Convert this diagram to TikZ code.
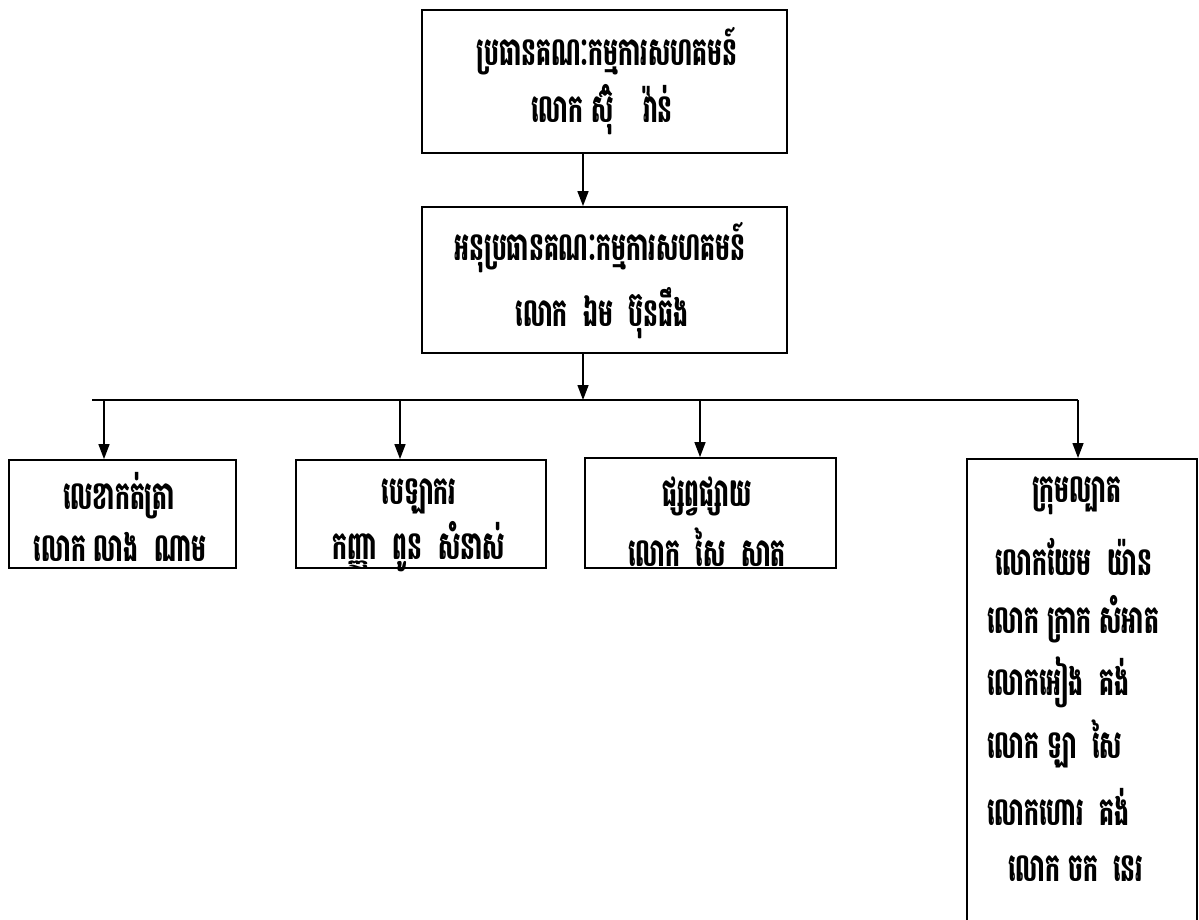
\documentclass[tikz,border=0pt]{standalone}
\usepackage{fontspec}
\usepackage{graphicx}
\newfontfamily\khmer[Script=Khmer]{Battambang}
\newcommand{\kh}[1]{\scalebox{0.78}[1.3]{\khmer\bfseries\fontsize{30}{36}\selectfont #1}}
\newcommand{\gap}{\hspace{20pt}}
\usetikzlibrary{arrows.meta}
\tikzset{
  box/.style={draw, line width=1.8pt, rectangle, inner sep=0pt},
  txt/.style={inner sep=0pt},
  arr/.style={line width=1.4pt, -{Triangle[length=15pt,width=11pt]}},
  conn/.style={line width=1.4pt}
}
\begin{document}
\begin{tikzpicture}[x=1pt,y=-1pt]
\clip (0,0) rectangle (1199,919);
\fill[white] (0,0) rectangle (1199,919);
% boxes
\node[box, minimum width=365pt, minimum height=143pt] (b1) at (604.5,81.5) {};
\node[box, minimum width=365pt, minimum height=146pt] (b2) at (604.5,280) {};
\node[box, minimum width=227pt, minimum height=108pt] (c1) at (122.5,514) {};
\node[box, minimum width=250pt, minimum height=108pt] (c2) at (421,514) {};
\node[box, minimum width=251pt, minimum height=110pt] (c3) at (710.5,513) {};
\node[box, minimum width=230pt, minimum height=500pt, anchor=north] (c4) at (1082,458) {};
% texts
\node[txt] (t11) at (607,51) {\kh{ប្រធានគណៈកម្មការសហគមន៍}};
\node[txt] (t12) at (602,110) {\kh{លោក ស៊ុំ\hspace{38pt}វ៉ាន់}};
\node[txt] (t21) at (600,248) {\kh{អនុប្រធានគណៈកម្មការសហគមន៍}};
\node[txt] (t22) at (602,313) {\kh{លោក\gap ឯម\gap ប៊ុនធឹង}};
\node[txt] (t31) at (119,496) {\kh{លេខាកត់ត្រា}};
\node[txt] (t32) at (120,547) {\kh{លោក លាង\gap ណាម}};
\node[txt] (t41) at (419,496) {\kh{បេឡាករ}};
\node[txt] (t42) at (419,547) {\kh{កញ្ញា\gap ពូន\gap សំនាស់}};
\node[txt] (t51) at (707,496) {\kh{ផ្សព្វផ្សាយ}};
\node[txt] (t52) at (707,547) {\kh{លោក\gap សៃ\gap សាត}};
\node[txt, anchor=west] (t61) at (1032,496) {\kh{ក្រុមល្បាត}};
\node[txt, anchor=west] (t62) at (995,557) {\kh{លោកយែម\gap យ៉ាន}};
\node[txt, anchor=west] (t63) at (987,619) {\kh{លោក ក្រាក សំអាត}};
\node[txt, anchor=west] (t64) at (987,682) {\kh{លោកអៀង\gap គង់}};
\node[txt, anchor=west] (t65) at (987,744) {\kh{លោក ឡា\gap សៃ}};
\node[txt, anchor=west] (t66) at (987,807) {\kh{លោកហោរ\gap គង់}};
\node[txt, anchor=west] (t67) at (1008,869) {\kh{លោក ចក\gap នេរ}};
% connectors
\coordinate (xm) at (583,0);
\coordinate (hl) at (92,400);
\coordinate (hr) at (1078,400);
\coordinate (hm) at (583,400);
\coordinate (x1) at (104,0);
\coordinate (x2) at (400,0);
\coordinate (x3) at (700,0);
\coordinate (x4) at (1078,0);
\draw[arr] (b1.south -| xm) -- (b2.north -| xm);
\draw[arr] (b2.south -| xm) -- (hm);
\draw[conn] (hl) -- (hr);
\draw[arr] (hl -| x1) -- (c1.north -| x1);
\draw[arr] (hl -| x2) -- (c2.north -| x2);
\draw[arr] (hl -| x3) -- (c3.north -| x3);
\draw[arr] (hr) -- (c4.north -| x4);
\end{tikzpicture}
\end{document}
